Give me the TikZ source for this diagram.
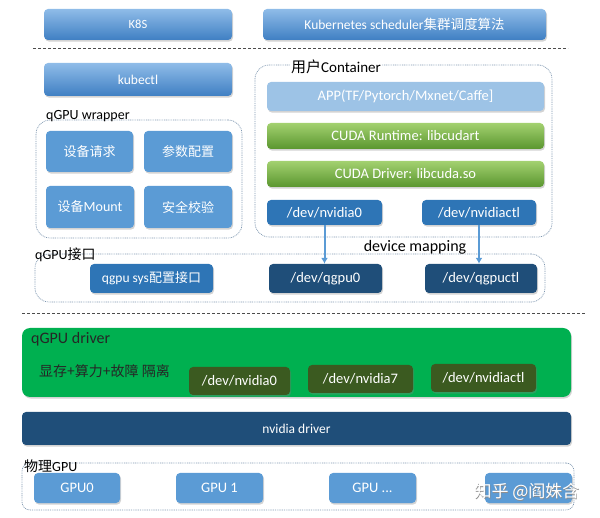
\documentclass[tikz,border=0pt]{standalone}
\usepackage{fontspec}
\setmainfont{Carlito}
\newfontfamily\cjk{Noto Sans CJK SC}
\usetikzlibrary{shadows,arrows.meta}
\definecolor{gradTop}{HTML}{8FBCE8}
\definecolor{gradBot}{HTML}{3F7FC3}
\definecolor{midBlue}{HTML}{5B9BD5}
\definecolor{lightBlue}{HTML}{9DC3E6}
\definecolor{devBlue}{HTML}{2E75B6}
\definecolor{darkBlue}{HTML}{1F4E79}
\definecolor{cudaTop}{HTML}{A3D170}
\definecolor{cudaMid}{HTML}{6AA83A}
\definecolor{cudaBot}{HTML}{5A962F}
\definecolor{drvGreen}{HTML}{00B050}
\definecolor{olive}{HTML}{3B5A20}
\definecolor{regionLine}{HTML}{7F97B0}
\begin{document}
\begin{tikzpicture}[x=1pt,y=-1pt,
  box/.style={rounded corners=4pt, inner sep=0pt, text=white,
    font=\fontsize{13.5}{15}\selectfont,
    drop shadow={shadow xshift=1pt,shadow yshift=-1.6pt,opacity=0.35}},
  devfont/.style={font=\fontsize{14.5}{16}\selectfont},
  gradbox/.style={box, top color=gradTop, bottom color=gradBot},
  cudabox/.style={box, top color=cudaTop, middle color=cudaMid, bottom color=cudaBot},
  region/.style={draw=regionLine, line width=0.7pt, dash pattern=on 0.9pt off 0.9pt,
    rounded corners=14pt, inner sep=0pt},
  grouplabel/.style={inner sep=1pt, font=\fontsize{14}{16}\selectfont, anchor=west},
  sep/.style={draw=black!70, line width=0.7pt, dash pattern=on 3pt off 2pt},
  maparrow/.style={draw=midBlue, line width=2pt, -{Latex[length=6pt,width=7pt]}},
]
\useasboundingbox (0,0) rectangle (600,518);

% top row
\node[gradbox, minimum width=188pt, minimum height=31pt, font=\fontsize{12.5}{14}\selectfont] (k8s) at (138,24.5) {K8S};
\node[gradbox, minimum width=283pt, minimum height=31pt] (sched) at (404.5,24.5) {Kubernetes scheduler{\cjk 集群调度算法}};

\coordinate (s1a) at (33,48);
\coordinate (s1b) at (568,48);
\draw[sep] (s1a) -- (s1b);

\node[gradbox, minimum width=188pt, minimum height=33pt] (kubectl) at (138,79.5) {kubectl};

% user container
\node[region, minimum width=297pt, minimum height=172pt] (cont) at (403.5,151) {};
\node[grouplabel, fill=white, font=\fontsize{15}{17}\selectfont] (contlbl) at (290,67) {{\cjk 用户}Container};
\node[box, fill=lightBlue, minimum width=277pt, minimum height=29pt, devfont] (app) at (405.5,96.5) {APP(TF/Pytorch/Mxnet/Caffe]};
\node[cudabox, minimum width=277pt, minimum height=26pt, devfont] (cudart) at (405.5,136) {CUDA Runtime: libcudart};
\node[cudabox, minimum width=277pt, minimum height=26pt, devfont] (cudadrv) at (405.5,174) {CUDA Driver: libcuda.so};
\node[box, fill=devBlue, minimum width=115pt, minimum height=25pt, devfont] (nv0) at (324.5,212.5) {/dev/nvidia0};
\node[box, fill=devBlue, minimum width=114pt, minimum height=25pt, devfont] (nvctl) at (479,212.5) {/dev/nvidiactl};

% qGPU wrapper
\node[region, minimum width=206pt, minimum height=118pt] (wrap) at (139,179) {};
\node[grouplabel] (wraplbl) at (45,116) {qGPU wrapper};
\node[box, fill=midBlue, minimum width=87pt, minimum height=41pt] (req) at (89.5,151.5) {\cjk\fontsize{13}{15}\selectfont 设备请求};
\node[box, fill=midBlue, minimum width=88pt, minimum height=41pt] (param) at (188,151.5) {\cjk\fontsize{13}{15}\selectfont 参数配置};
\node[box, fill=midBlue, minimum width=88pt, minimum height=42pt] (mount) at (90,207) {\fontsize{13}{15}\selectfont{\cjk 设备}\fontsize{14}{15}\selectfont Mount};
\node[box, fill=midBlue, minimum width=88pt, minimum height=42pt] (sec) at (188,207) {\cjk\fontsize{13}{15}\selectfont 安全校验};

% qGPU interface
\node[region, minimum width=510pt, minimum height=48pt] (iface) at (290,278) {};
\node[grouplabel] (ifacelbl) at (34,255) {qGPU{\cjk 接口}};
\node[box, fill=devBlue, minimum width=123pt, minimum height=29pt] (qsys) at (151.5,278.5) {qgpu sys{\cjk\fontsize{13}{15}\selectfont 配置接口}};
\node[box, fill=darkBlue, minimum width=113pt, minimum height=29pt, devfont] (qgpu0) at (325.5,278.5) {/dev/qgpu0};
\node[box, fill=darkBlue, minimum width=112pt, minimum height=29pt, devfont] (qgpuctl) at (481,278.5) {/dev/qgpuctl};
\node[font=\fontsize{16}{18}\selectfont, inner sep=1pt] (devmap) at (415,247) {device mapping};

\draw[maparrow] (nv0.south) -- (nv0.south |- qgpu0.north);
\draw[maparrow] (nvctl.south) -- (nvctl.south |- qgpuctl.north);

\coordinate (s2a) at (22,313);
\coordinate (s2b) at (586,313);
\draw[sep] (s2a) -- (s2b);

% qGPU driver
\node[box, fill=drvGreen, rounded corners=8pt, minimum width=549pt, minimum height=69pt] (qdrv) at (296.5,362.5) {};
\node[grouplabel, text=black!85, font=\fontsize{16}{18}\selectfont] (qdrvlbl) at (30,339) {qGPU driver};
\node[grouplabel, text=black!85] (iso) at (38,371) {\cjk\fontsize{14}{16}\selectfont 显存+算力+故障 隔离};
\node[box, fill=olive, minimum width=101pt, minimum height=28pt, devfont] (dnv0) at (239.5,381) {/dev/nvidia0};
\node[box, fill=olive, minimum width=105pt, minimum height=28pt, devfont] (dnv7) at (360.5,379) {/dev/nvidia7};
\node[box, fill=olive, minimum width=105pt, minimum height=28pt, devfont] (dnvctl) at (483.5,378) {/dev/nvidiactl};

% nvidia driver
\node[box, fill=darkBlue, minimum width=549pt, minimum height=33pt] (nvdrv) at (296.5,428.5) {nvidia driver};

% physical GPU
\node[region, rounded corners=8pt, minimum width=552pt, minimum height=47pt] (phys) at (298,486.5) {};
\node[grouplabel] (physlbl) at (23,466) {{\cjk 物理}GPU};
\node[box, fill=midBlue, minimum width=86pt, minimum height=30pt, devfont] (gpu0) at (77,488) {GPU0};
\node[box, fill=midBlue, minimum width=87pt, minimum height=30pt, devfont] (gpu1) at (219.5,488) {GPU 1};
\node[box, fill=midBlue, minimum width=87pt, minimum height=30pt, devfont] (gpun) at (372.5,488) {GPU ...};
\node[box, fill=midBlue, minimum width=87pt, minimum height=30pt] (gpu7) at (528.5,488) {};

% watermark
\node[font=\cjk\fontsize{17}{19}\selectfont, text=black!45, inner sep=0pt] (wmshadow) at (527.5,492.5) {知乎 @阎姝含};
\node[font=\cjk\fontsize{17}{19}\selectfont, text=white, inner sep=0pt] (wm) at (527,492) {知乎 @阎姝含};
\end{tikzpicture}
\end{document}
